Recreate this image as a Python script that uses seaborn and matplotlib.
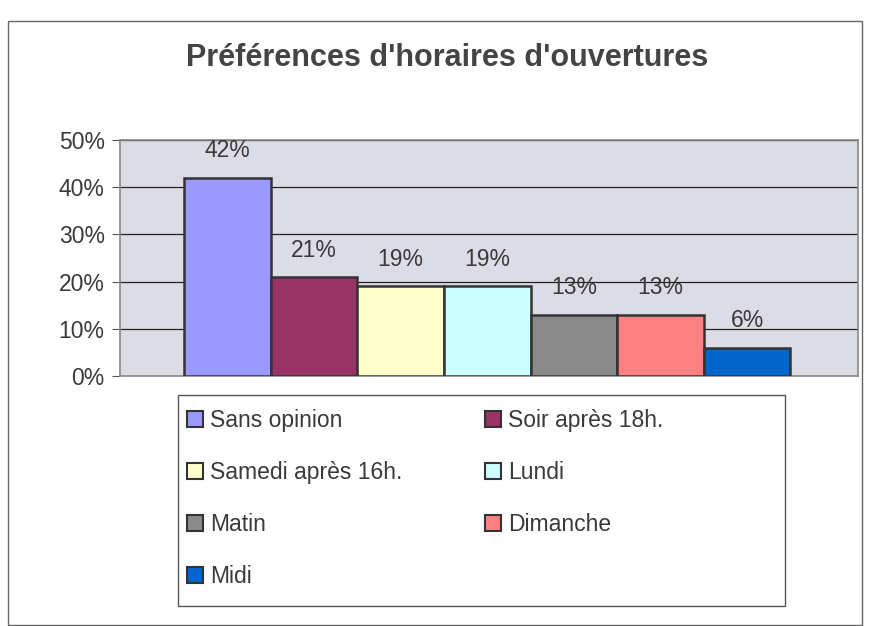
import matplotlib.pyplot as plt
import matplotlib.patches as mpatches
import seaborn as sns
import pandas as pd

categories = ["Sans opinion", "Soir après 18h.", "Samedi après 16h.", "Lundi",
              "Matin", "Dimanche", "Midi"]
values = [42, 21, 19, 19, 13, 13, 6]
colors = ["#9999FF", "#993366", "#FFFFCC", "#CCFFFF", "#8A8A8A", "#FF8080", "#0066CC"]
yticks = [0, 10, 20, 30, 40, 50]

df = pd.DataFrame({"cat": categories, "val": values})

sns.set_style("white")
plt.rcParams['font.family'] = ['Liberation Sans', 'DejaVu Sans']
txt = "#3a3a3a"

fig = plt.figure(figsize=(8.72, 6.26), dpi=100)
ax = fig.add_axes([120 / 872, 1 - 376 / 626, 738 / 872, 236 / 626])
ax.set_facecolor("#DCDCE6")

sns.barplot(data=df, x="cat", y="val", hue="cat", palette=colors, width=1.0,
            saturation=1, edgecolor="#333333", linewidth=1.8, legend=False,
            ax=ax, zorder=3)

for c in ax.containers:
    ax.bar_label(c, fmt="%d%%", padding=11, fontsize=16.5, color=txt)

ax.set_ylim(0, 50)
ax.set_xlim(-1.24, 7.28)
ax.set_yticks(yticks)
ax.set_yticklabels([f"{t}%" for t in yticks], fontsize=16.5, color=txt)
ax.set_xticks([])
ax.set_xlabel("")
ax.set_ylabel("")
ax.yaxis.grid(True, color="#222222", linewidth=0.9, zorder=0)
ax.set_axisbelow(True)
ax.tick_params(axis="y", length=6, direction="out", left=True, color="#555555", pad=5)
for s in ax.spines.values():
    s.set_color("#888888")
    s.set_linewidth(1.2)

fig.suptitle("Préférences d'horaires d'ouvertures", x=447 / 872, y=1 - 43 / 626,
             fontsize=22, fontweight="bold", color="#444444")

# legend box drawn separately, entries filled row by row like the original
fig.patches.append(mpatches.Rectangle((178 / 872, 1 - 606 / 626), 607 / 872, 211 / 626,
                                      transform=fig.transFigure, fill=False,
                                      edgecolor="#555555", linewidth=1.0))
handles = [mpatches.Patch(facecolor=col, edgecolor="#333333", linewidth=1.5, label=cat)
           for cat, col in zip(categories, colors)]
order = [0, 2, 4, 6, 1, 3, 5]
leg = fig.legend([handles[i] for i in order], [categories[i] for i in order],
                 ncol=2, loc="upper left",
                 bbox_to_anchor=(187 / 872, 1 - 409 / 626),
                 fontsize=16.5, frameon=False,
                 handlelength=0.7, handleheight=0.7, handletextpad=0.3,
                 labelspacing=1.27, columnspacing=3.6, borderpad=0,
                 borderaxespad=0)
for t in leg.get_texts():
    t.set_color(txt)

# chart area border
fig.patches.append(mpatches.Rectangle((8 / 872, 0.002), 854 / 872, 1 - 22 / 626,
                                      transform=fig.transFigure, fill=False,
                                      edgecolor="#666666", linewidth=1.0))

fig.savefig("out.png", dpi=100)
